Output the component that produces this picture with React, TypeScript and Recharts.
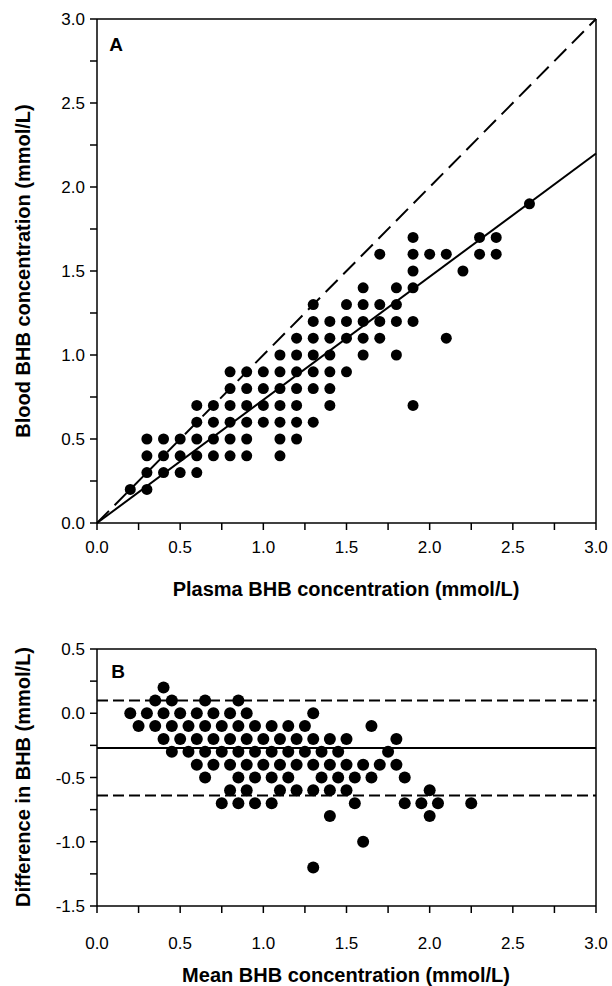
import { ScatterChart, Scatter, XAxis, YAxis, ReferenceLine } from "recharts";

const FONT = '"Liberation Sans", Arial, Helvetica, sans-serif';

// Panel A: blood BHB readings grouped by plasma BHB (mmol/L)
const plasmaLevels = [0.2, 0.3, 0.4, 0.5, 0.6, 0.7, 0.8, 0.9, 1.0, 1.1, 1.2, 1.3, 1.4, 1.5, 1.6, 1.7, 1.8, 1.9, 2.0, 2.1, 2.2, 2.3, 2.4, 2.6];
const bloodAtPlasma = [
  [0.2],
  [0.2, 0.3, 0.4, 0.5],
  [0.3, 0.4, 0.5],
  [0.3, 0.4, 0.5],
  [0.3, 0.4, 0.5, 0.6, 0.7],
  [0.4, 0.5, 0.6, 0.7],
  [0.4, 0.5, 0.6, 0.7, 0.8, 0.9],
  [0.4, 0.5, 0.6, 0.7, 0.8, 0.9],
  [0.6, 0.7, 0.8, 0.9],
  [0.4, 0.5, 0.6, 0.7, 0.8, 0.9, 1.0],
  [0.5, 0.6, 0.7, 0.8, 0.9, 1.0, 1.1],
  [0.6, 0.8, 0.9, 1.0, 1.1, 1.2, 1.3],
  [0.7, 0.8, 0.9, 1.0, 1.1, 1.2],
  [0.9, 1.1, 1.2, 1.3],
  [1.0, 1.1, 1.2, 1.3, 1.4],
  [1.1, 1.2, 1.3, 1.6],
  [1.0, 1.2, 1.3, 1.4],
  [0.7, 1.2, 1.4, 1.5, 1.6, 1.7],
  [1.6],
  [1.1, 1.6],
  [1.5],
  [1.6, 1.7],
  [1.6, 1.7],
  [1.9],
];

// regression of blood on plasma, and the line of identity
const fitSlope = 0.733;
const fitIntercept = 0;

// Panel B: Bland-Altman, mean values grouped by difference (blood - plasma)
const diffLevels = [0.2, 0.1, 0.0, -0.1, -0.2, -0.3, -0.4, -0.5, -0.6, -0.7, -0.8, -1.0, -1.2];
const meanAtDiff = [
  [0.4],
  [0.35, 0.45, 0.65, 0.85],
  [0.2, 0.3, 0.4, 0.5, 0.6, 0.7, 0.8, 0.9, 1.3],
  [0.25, 0.35, 0.45, 0.55, 0.65, 0.75, 0.85, 0.95, 1.05, 1.15, 1.25, 1.65],
  [0.4, 0.5, 0.6, 0.7, 0.8, 0.9, 1.0, 1.1, 1.2, 1.3, 1.4, 1.5, 1.8],
  [0.45, 0.55, 0.65, 0.75, 0.85, 0.95, 1.05, 1.15, 1.25, 1.35, 1.45, 1.75],
  [0.6, 0.7, 0.8, 0.9, 1.0, 1.1, 1.2, 1.3, 1.4, 1.5, 1.6, 1.7, 1.8],
  [0.65, 0.85, 0.95, 1.05, 1.15, 1.35, 1.45, 1.55, 1.65, 1.85],
  [0.8, 0.9, 1.1, 1.2, 1.3, 1.4, 1.5, 2.0],
  [0.75, 0.85, 0.95, 1.05, 1.55, 1.85, 1.95, 2.05, 2.25],
  [1.4, 2.0],
  [1.6],
  [1.3],
];
const meanDiff = -0.27;
const upperLimit = 0.1;
const lowerLimit = -0.64;

const concTicks = [0, 0.25, 0.5, 0.75, 1, 1.25, 1.5, 1.75, 2, 2.25, 2.5, 2.75, 3];
const diffTicks = [-1.5, -1.25, -1, -0.75, -0.5, -0.25, 0, 0.25, 0.5];

const scatterA = plasmaLevels.flatMap((x, i) => bloodAtPlasma[i].map((y) => ({ x, y })));
const scatterB = diffLevels.flatMap((y, i) => meanAtDiff[i].map((x) => ({ x, y })));

// label only the half-unit ticks, the quarter ones stay as minor marks
const majorOnly = (v: number) => (Math.abs(v * 2 - Math.round(v * 2)) < 1e-6 ? v.toFixed(1) : "");

const axisProps = {
  type: "number" as const,
  axisLine: { stroke: "#000", strokeWidth: 1.5 },
  tickLine: { stroke: "#000", strokeWidth: 1.5 },
  tickSize: 7,
  tick: { fill: "#000", fontSize: 17, fontFamily: FONT },
  tickFormatter: majorOnly,
  interval: 0 as const,
};

const dot = (r: number) => (props: any) => <circle cx={props.cx} cy={props.cy} r={r} fill="#000" />;

const titleStyle = {
  position: "absolute" as const,
  fontFamily: FONT,
  fontWeight: 700,
  fontSize: 20,
  whiteSpace: "nowrap" as const,
  color: "#000",
  lineHeight: 1,
};

const App = () => {
  return (
    <div style={{ position: "absolute", left: 0, top: 0, width: 612, height: 986, background: "#fff" }}>
      <div style={{ position: "absolute", left: 0, top: 0 }}>
        <ScatterChart width={612} height={600} margin={{ top: 19, right: 16, bottom: 0, left: 0 }}>
          <XAxis {...axisProps} dataKey="x" domain={[0, 3]} ticks={concTicks} height={77} tickMargin={11} />
          <YAxis {...axisProps} dataKey="y" domain={[0, 3]} ticks={concTicks} width={97} tickMargin={5} />
          <ReferenceLine y={3} stroke="#000" strokeWidth={1.5} />
          <ReferenceLine x={3} stroke="#000" strokeWidth={1.5} />
          <ReferenceLine
            segment={[{ x: 0, y: 0 }, { x: 3, y: 3 }]}
            stroke="#000"
            strokeWidth={2}
            strokeDasharray="17 8"
          />
          <ReferenceLine
            segment={[{ x: 0, y: fitIntercept }, { x: 3, y: fitIntercept + fitSlope * 3 }]}
            stroke="#000"
            strokeWidth={2}
          />
          <Scatter data={scatterA} shape={dot(5.5)} isAnimationActive={false} />
        </ScatterChart>
      </div>
      <div style={{ position: "absolute", left: 0, top: 620 }}>
        <ScatterChart width={612} height={366} margin={{ top: 29, right: 16, bottom: 0, left: 0 }}>
          <XAxis {...axisProps} dataKey="x" domain={[0, 3]} ticks={concTicks} height={80} tickMargin={24} />
          <YAxis {...axisProps} dataKey="y" domain={[-1.5, 0.5]} ticks={diffTicks} width={97} tickMargin={5} />
          <ReferenceLine y={0.5} stroke="#000" strokeWidth={1.5} />
          <ReferenceLine x={3} stroke="#000" strokeWidth={1.5} />
          <ReferenceLine y={upperLimit} stroke="#000" strokeWidth={2} strokeDasharray="11 5" />
          <ReferenceLine y={meanDiff} stroke="#000" strokeWidth={2} />
          <ReferenceLine y={lowerLimit} stroke="#000" strokeWidth={2} strokeDasharray="11 5" />
          <Scatter data={scatterB} shape={dot(6)} isAnimationActive={false} />
        </ScatterChart>
      </div>

      <div style={{ ...titleStyle, fontSize: 19, left: 116, top: 44, transform: "translate(-50%, -50%)" }}>A</div>
      <div style={{ ...titleStyle, fontSize: 19, left: 118, top: 671, transform: "translate(-50%, -50%)" }}>B</div>

      <div style={{ ...titleStyle, left: 346, top: 589, transform: "translate(-50%, -50%)" }}>
        Plasma BHB concentration (mmol/L)
      </div>
      <div style={{ ...titleStyle, left: 23, top: 271, transform: "translate(-50%, -50%) rotate(-90deg)" }}>
        Blood BHB concentration (mmol/L)
      </div>
      <div style={{ ...titleStyle, left: 346, top: 975, transform: "translate(-50%, -50%)" }}>
        Mean BHB concentration (mmol/L)
      </div>
      <div style={{ ...titleStyle, left: 23, top: 777, transform: "translate(-50%, -50%) rotate(-90deg)" }}>
        Difference in BHB (mmol/L)
      </div>
    </div>
  );
};

export default App;
